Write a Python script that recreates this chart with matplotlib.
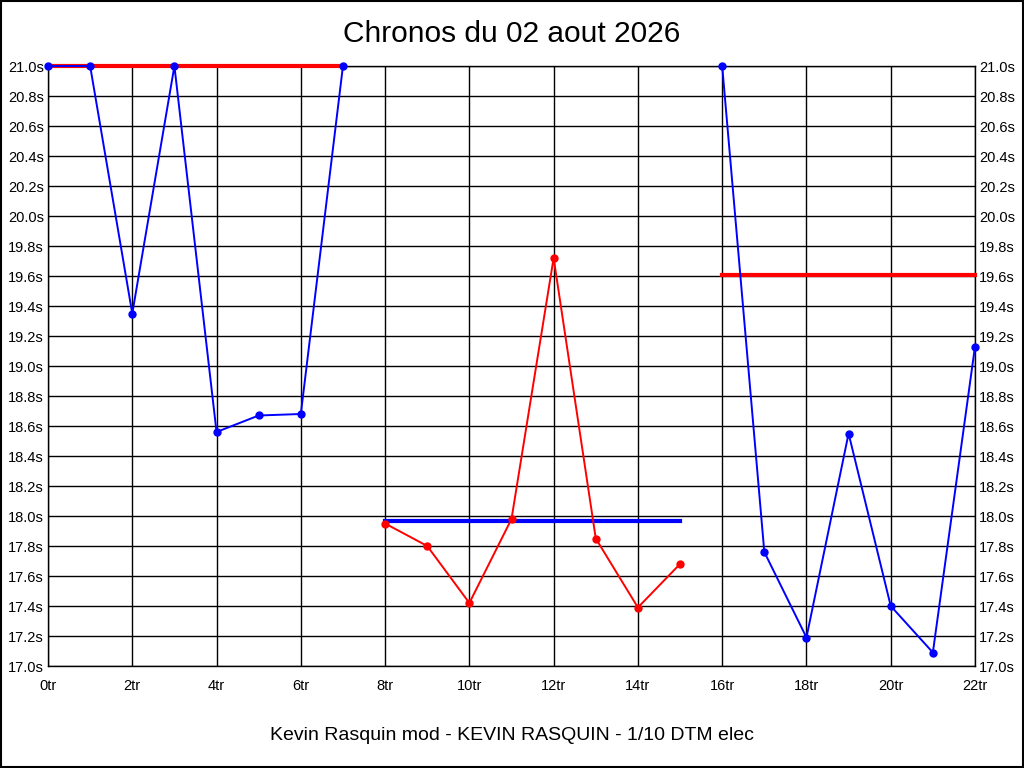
import matplotlib
matplotlib.use("Agg")
import matplotlib.pyplot as plt
from matplotlib.patches import Rectangle

plt.rcParams['font.family'] = ['Liberation Sans', 'DejaVu Sans']

# tours et chronos (les valeurs au dela de 21.0s sont ecretees)
tours_1 = [0, 1, 2, 3, 4, 5, 6, 7]
chronos_1 = [21.0, 21.0, 19.35, 21.0, 18.56, 18.67, 18.68, 21.0]
moyenne_1 = 21.0

tours_2 = [8, 9, 10, 11, 12, 13, 14, 15]
chronos_2 = [17.95, 17.80, 17.42, 17.98, 19.72, 17.85, 17.39, 17.68]
moyenne_2 = 17.97

tours_3 = [16, 17, 18, 19, 20, 21, 22]
chronos_3 = [21.0, 17.76, 17.19, 18.55, 17.40, 17.09, 19.13]
moyenne_3 = 19.61

titre = "Chronos du 02 aout 2026"
sous_titre = "Kevin Rasquin mod - KEVIN RASQUIN - 1/10 DTM elec"

fig = plt.figure(figsize=(10.24, 7.68), dpi=100)
ax = fig.add_axes([48 / 1024, 1 - 666 / 768, 927 / 1024, 600 / 768])

ax.plot(tours_1, chronos_1, color="blue", lw=1.4, marker="o", ms=5, clip_on=False, zorder=4)
ax.plot([tours_1[0], tours_1[-1]], [moyenne_1, moyenne_1], color="red", lw=3, clip_on=False, zorder=3)

ax.plot(tours_2, chronos_2, color="red", lw=1.4, marker="o", ms=5, clip_on=False, zorder=4)
ax.plot([tours_2[0], tours_2[-1]], [moyenne_2, moyenne_2], color="blue", lw=3, clip_on=False, zorder=3)

ax.plot(tours_3, chronos_3, color="blue", lw=1.4, marker="o", ms=5, clip_on=False, zorder=4)
ax.plot([tours_3[0], tours_3[-1]], [moyenne_3, moyenne_3], color="red", lw=3, clip_on=False, zorder=3)

ax.set_xlim(0, 22)
ax.set_ylim(17.0, 21.0)
xt = list(range(0, 23, 2))
ax.set_xticks(xt)
ax.set_xticklabels([f"{t}tr" for t in xt])
yt = [17.0 + 0.2 * i for i in range(21)]
ax.set_yticks(yt)
ax.set_yticklabels([f"{v:.1f}s" for v in yt])
ax.tick_params(axis="both", length=0, labelsize=10.5)
ax.tick_params(axis="y", right=True, labelright=True, pad=3)
ax.tick_params(axis="x", pad=9)
ax.grid(True, color="black", lw=1)
ax.set_axisbelow(True)
for s in ax.spines.values():
    s.set_color("black")
    s.set_linewidth(1)

fig.text(0.5, 1 - 34 / 768, titre, ha="center", va="center", fontsize=21.5)
fig.text(0.5, 1 - 735 / 768, sous_titre, ha="center", va="center", fontsize=14)

fig.patches.append(Rectangle((0.0005, 0.0007), 0.999, 0.9986, transform=fig.transFigure,
                             fill=False, edgecolor="black", lw=1.5))

plt.savefig("out.png", dpi=100)
plt.close()
